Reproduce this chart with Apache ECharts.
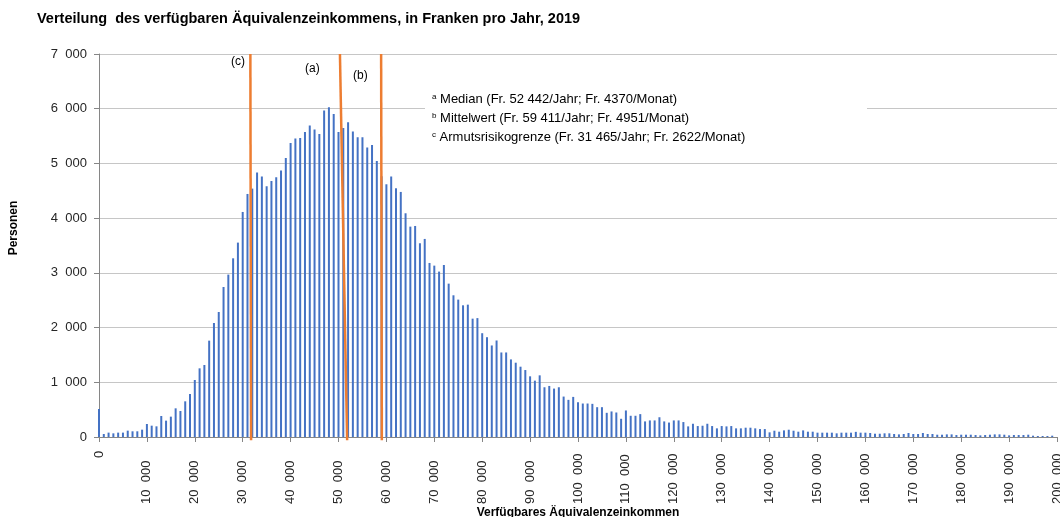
<!DOCTYPE html>
<html>
<head>
<meta charset="utf-8">
<script src="https://cdn.jsdelivr.net/npm/echarts@6/dist/echarts.min.js"></script>
<style>
  html, body { margin: 0; padding: 0; background: #fff; }
  #chart { width: 1060px; height: 517px; }
</style>
</head>
<body>
<div id="chart"></div>
<script>
// Einkommensklassen à 1000 Fr., Startwert der Klasse
const binWidth = 1000;
// Personen pro Klasse
const persons = [
  510, 55, 80, 67, 80, 80, 116, 104, 104, 134,
  238, 207, 195, 384, 299, 372, 524, 475, 652, 786,
  1042, 1255, 1316, 1761, 2084, 2285, 2742, 2968, 3266, 3553,
  4113, 4442, 4540, 4832, 4759, 4583, 4680, 4747, 4869, 5100,
  5375, 5454, 5466, 5576, 5692, 5618, 5539, 5966, 6027, 5905,
  5576, 5649, 5753, 5582, 5478, 5478, 5289, 5338, 5046, 4765,
  4619, 4759, 4546, 4479, 4089, 3845, 3857, 3541, 3620, 3181,
  3132, 3023, 3144, 2803, 2590, 2511, 2407, 2419, 2163, 2173,
  1897, 1824, 1673, 1764, 1545, 1545, 1418, 1358, 1285, 1224,
  1109, 1030, 1127, 909, 933, 885, 909, 739, 679, 733,
  636, 612, 612, 606, 545, 545, 442, 467, 448, 333,
  485, 388, 388, 418, 285, 303, 303, 361, 285, 264,
  303, 303, 273, 194, 242, 200, 206, 242, 200, 158,
  200, 194, 200, 158, 158, 170, 170, 158, 145, 145,
  85, 115, 97, 121, 133, 115, 97, 121, 97, 97,
  79, 79, 79, 79, 67, 79, 79, 79, 94, 79,
  79, 73, 60, 60, 67, 67, 55, 48, 55, 73,
  55, 55, 73, 55, 55, 42, 42, 48, 48, 36,
  42, 42, 42, 36, 30, 36, 42, 48, 48, 42,
  30, 36, 36, 36, 42, 24, 18, 18, 18, 24
];

// Referenzlinien wie im Bild (oben / unten leicht schräg)
const lineC = [[31600, 7000], [31750, -60]];
const lineA = [[50300, 7000], [51800, -60]];
const lineB = [[58900, 7000], [59050, -60]];

const notes = [
  ['a', 'Median (Fr. 52 442/Jahr; Fr. 4370/Monat)'],
  ['b', 'Mittelwert (Fr. 59 411/Jahr; Fr. 4951/Monat)'],
  ['c', 'Armutsrisikogrenze (Fr. 31 465/Jahr; Fr. 2622/Monat)']
];

const fmt = v => String(v).replace(/\B(?=(\d{3})+(?!\d))/g, '  ');
const font = 'Liberation Sans, Arial, sans-serif';
const orange = '#ED7D31';

const barData = persons.map((v, i) => [i * binWidth, v]);

const refLine = data => ({
  type: 'line',
  data: data,
  symbol: 'none',
  clip: false,
  silent: true,
  z: 5,
  lineStyle: { color: orange, width: 2.5 }
});

const chart = echarts.init(document.getElementById('chart'));
chart.setOption({
  animation: false,
  backgroundColor: '#fff',
  textStyle: { fontFamily: font },
  title: {
    text: 'Verteilung  des verfügbaren Äquivalenzeinkommens, in Franken pro Jahr, 2019',
    left: 37,
    top: 11,
    padding: 0,
    textStyle: { fontSize: 14.5, fontWeight: 'bold', color: '#000', fontFamily: font }
  },
  grid: { left: 99, right: 3, top: 54, bottom: 80, outerBoundsMode: 'none', containLabel: false },
  xAxis: {
    type: 'value',
    min: 0,
    max: 200000,
    interval: 10000,
    name: 'Verfügbares Äquivalenzeinkommen',
    nameLocation: 'middle',
    nameGap: 70,
    nameMoveOverlap: false,
    nameTextStyle: { fontSize: 12, fontWeight: 'bold', color: '#000', fontFamily: font },
    axisLine: { lineStyle: { color: '#868686' } },
    axisTick: { length: 5, lineStyle: { color: '#868686' } },
    splitLine: { show: false },
    axisLabel: {
      rotate: 90,
      align: 'left',
      margin: 67,
      fontSize: 13,
      color: '#262626',
      fontFamily: font,
      formatter: v => (v === 0 ? '{z|0}' : fmt(v)),
      rich: { z: { fontSize: 13, color: '#262626', padding: [0, 0, 0, 46] } }
    }
  },
  yAxis: {
    type: 'value',
    min: 0,
    max: 7000,
    interval: 1000,
    name: '',
    axisLine: { show: true, lineStyle: { color: '#868686' } },
    axisTick: { show: true, length: 5, lineStyle: { color: '#868686' } },
    splitLine: { lineStyle: { color: '#c6c6c6' } },
    axisLabel: { fontSize: 13, color: '#262626', margin: 12, fontFamily: font, formatter: v => fmt(v) }
  },
  series: [
    {
      type: 'bar',
      data: barData,
      barWidth: 2,
      itemStyle: { color: '#4472C4' },
      silent: true
    },
    refLine(lineC),
    refLine(lineA),
    refLine(lineB)
  ],
  graphic: [
    { type: 'rect', shape: { x: 425, y: 92, width: 442, height: 58 }, style: { fill: '#fff' }, z: 1 },
    {
      type: 'text', x: 14, y: 228, rotation: Math.PI / 2, z: 10,
      style: { text: 'Personen', font: 'bold 12px ' + font, fill: '#000', align: 'center', verticalAlign: 'middle' }
    },
    { type: 'text', left: 231, top: 56, z: 10, style: { text: '(c)', fill: '#000', font: '12px ' + font } },
    { type: 'text', left: 305, top: 63, z: 10, style: { text: '(a)', fill: '#000', font: '12px ' + font } },
    { type: 'text', left: 353, top: 70, z: 10, style: { text: '(b)', fill: '#000', font: '12px ' + font } }
  ].concat(notes.map((n, k) => ({
    type: 'text',
    left: 432,
    top: 93 + k * 19,
    z: 10,
    style: {
      text: '{s|' + n[0] + '} ' + n[1],
      font: '13px ' + font,
      fill: '#000',
      rich: { s: { fontSize: 8, verticalAlign: 'top', padding: [0, 0, 5, 0], fontFamily: font } }
    }
  })))
});
</script>
</body>
</html>
